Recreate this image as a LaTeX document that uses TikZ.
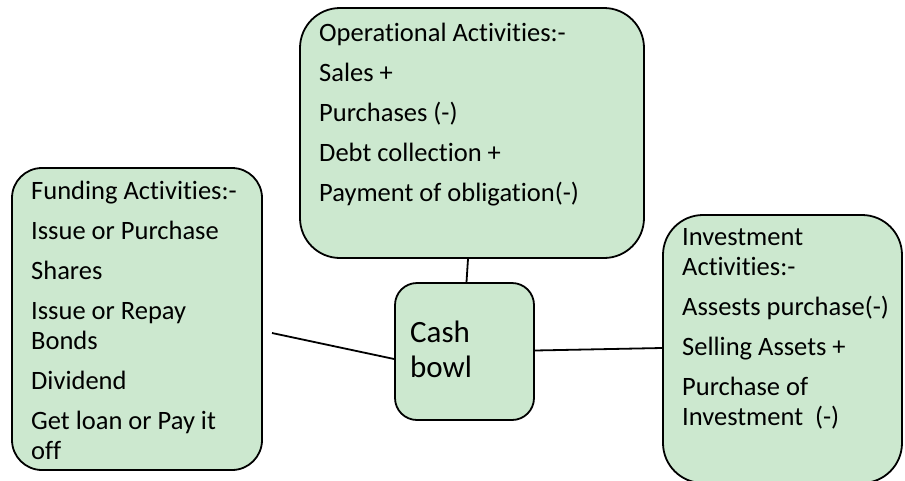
\documentclass[tikz,border=0pt]{standalone}
\usepackage{fontspec}
\setmainfont{Carlito}[Ligatures=NoCommon]
\definecolor{boxgreen}{RGB}{204,232,207}
\tikzset{
  box/.style={draw=black, fill=boxgreen, line width=1.8pt, inner sep=0pt},
  txt/.style={anchor=base west, align=left, inner sep=0pt, font=\fontsize{26.5}{30}\selectfont},
  conn/.style={draw=black, line width=1.8pt}
}
\begin{document}
\begin{tikzpicture}[x=1pt,y=-1pt]
\useasboundingbox (0,0) rectangle (905,480);
% boxes
\node[box, rounded corners=30pt, minimum width=250pt, minimum height=302pt] (fund) at (137,319) {};
\node[box, rounded corners=40pt, minimum width=344pt, minimum height=250pt] (op) at (472,133) {};
\node[box, rounded corners=22pt, minimum width=139pt, minimum height=137pt] (cash) at (464.5,351.5) {};
\node[box, rounded corners=40pt, minimum width=239pt, minimum height=268pt] (inv) at (782.5,349) {};
% texts (anchored at the baseline of the last line)
\node[txt] (fundtxt) at (31,459) {Funding Activities:-\\[10pt]Issue or Purchase\\[10pt]Shares\\[10pt]Issue or Repay\\Bonds\\[10pt]Dividend\\[10pt]Get loan or Pay it\\off};
\node[txt] (optxt) at (319,201) {Operational Activities:-\\[10pt]Sales +\\[10pt]Purchases (-)\\[10pt]Debt collection +\\[10pt]Payment of obligation(-)};
\node[txt] (invtxt) at (682,425) {Investment\\Activities:-\\[10pt]Assests purchase(-)\\[10pt]Selling Assets +\\[10pt]Purchase of\\Investment\ \ (-)};
\node[txt, font=\fontsize{31}{35}\selectfont] (cashtxt) at (410,377) {Cash\\bowl};
% connectors
\coordinate (fl) at (272,333);
\draw[conn] (fl) -- ([yshift=-7.5pt]cash.west);
\draw[conn] ([xshift=-4pt]op.south) -- ([xshift=2pt]cash.north);
\draw[conn] ([yshift=1pt]cash.east) -- ([yshift=1pt]inv.west);
\end{tikzpicture}
\end{document}
